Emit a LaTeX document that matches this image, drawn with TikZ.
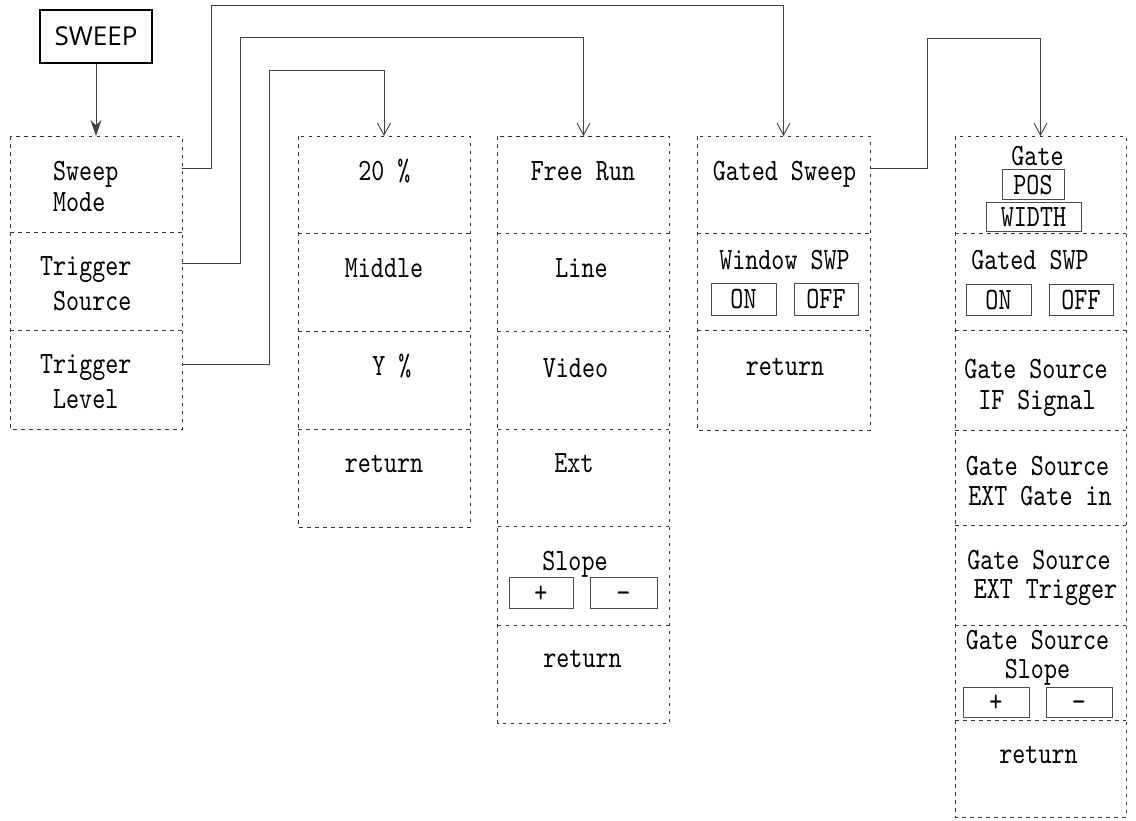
\documentclass[tikz,border=0pt]{standalone}
\usepackage{fontspec}
\usetikzlibrary{arrows.meta,calc}
\newfontfamily\lcd{lmmono10-regular.otf}[FakeStretch=0.8]
\newfontfamily\hdr{Open Sans}
\tikzset{
  cell/.style={draw=none, minimum width=172pt, inner sep=0pt, outer sep=0pt},
  colbox/.style={draw=black!80, line width=0.9pt, dash pattern=on 3.5pt off 4.5pt},
  txt/.style={font=\lcd\fontsize{31}{33}\selectfont, inner sep=0pt, anchor=base},
  txtw/.style={txt, anchor=base west},
  btn/.style={draw=black!70, line width=0.9pt, inner sep=0pt, minimum height=31pt,
              text height=19pt, text depth=0pt, font=\lcd\fontsize{31}{33}\selectfont},
  conn/.style={draw=black!75, line width=0.9pt},
  tip/.style={-{Straight Barb[length=12pt,width=13pt]}},
}
\begin{document}
\begin{tikzpicture}[x=1pt,y=-1pt]
\useasboundingbox (0,0) rectangle (1136,820);

% ---------- header ----------
\node[draw=black, line width=2.2pt, minimum width=112pt, minimum height=53pt, inner sep=0pt,
      font=\hdr\fontsize{26}{26}\selectfont] (sweep) at (96,36.5) {SWEEP};

% ---------- column 1 ----------
\node[cell, minimum height=96pt] (sm) at (96,184) {};
\node[cell, minimum height=98pt] (ts) at (96,281) {};
\node[cell, minimum height=99pt] (tl) at (96,379.5) {};
\draw[colbox] (sm.north west) rectangle (tl.south east);
\draw[colbox] (sm.south west) -- (sm.south east);
\draw[colbox] (ts.south west) -- (ts.south east);
\node[txtw] (t1a) at (53,180) {Sweep};
\node[txtw] (t1b) at (53,211) {Mode};
\node[txtw] (t2a) at (40,275) {Trigger};
\node[txtw] (t2b) at (53,310) {Source};
\node[txtw] (t3a) at (40,373) {Trigger};
\node[txtw] (t3b) at (53,408) {Level};

% ---------- column 2 ----------
\node[cell, minimum height=97pt] (p20) at (384,184.5) {};
\node[cell, minimum height=98pt] (mid) at (384,282) {};
\node[cell, minimum height=98pt] (yp) at (384,380) {};
\node[cell, minimum height=98pt] (rt2) at (384,478) {};
\draw[colbox] (p20.north west) rectangle (rt2.south east);
\foreach \c in {p20,mid,yp} \draw[colbox] (\c.south west) -- (\c.south east);
\node[txt] (u1) at (384.5,180) {20 \%};
\node[txt] (u2) at (384,277) {Middle};
\node[txt] (u3) at (392,375) {Y \%};
\node[txt] (u4) at (384,472) {return};

% ---------- column 3 ----------
\node[cell, minimum height=97pt] (fr) at (583.5,184.5) {};
\node[cell, minimum height=98pt] (ln) at (583.5,282) {};
\node[cell, minimum height=98pt] (vd) at (583.5,380) {};
\node[cell, minimum height=97pt] (ex) at (583.5,477.5) {};
\node[cell, minimum height=99pt] (sl) at (583.5,575.5) {};
\node[cell, minimum height=98pt] (rt3) at (583.5,674) {};
\draw[colbox] (fr.north west) rectangle (rt3.south east);
\foreach \c in {fr,ln,vd,ex,sl} \draw[colbox] (\c.south west) -- (\c.south east);
\node[txt] (v1) at (583,180) {Free Run};
\node[txt] (v2) at (581.5,277) {Line};
\node[txt] (v3) at (575.5,377) {Video};
\node[txt] (v4) at (574,472) {Ext};
\node[txt] (v5) at (575,570) {Slope};
\node[btn, minimum width=64pt] (v5p) at (541,592.5) {+};
\node[btn, minimum width=67pt] (v5m) at (623.5,592.5) {−};
\node[txt] (v6) at (582.5,667) {return};

% ---------- column 4 ----------
\node[cell, minimum width=173pt, minimum height=97pt] (gsw) at (783.5,184.5) {};
\node[cell, minimum width=173pt, minimum height=97pt] (win) at (783.5,281.5) {};
\node[cell, minimum width=173pt, minimum height=100pt] (rt4) at (783.5,380) {};
\draw[colbox] (gsw.north west) rectangle (rt4.south east);
\foreach \c in {gsw,win} \draw[colbox] (\c.south west) -- (\c.south east);
\node[txt] (w1) at (784.5,180) {Gated Sweep};
\node[txt] (w2) at (784.5,269) {Window SWP};
\node[btn, minimum width=65pt, minimum height=32pt] (w2on) at (743.5,299) {ON};
\node[btn, minimum width=64pt, minimum height=32pt] (w2off) at (826,299) {OFF};
\node[txt] (w3) at (785,375) {return};

% ---------- column 5 ----------
\node[cell, minimum width=171pt, minimum height=97pt] (gate) at (1040.5,184.5) {};
\node[cell, minimum width=171pt, minimum height=97pt] (gswp) at (1040.5,281.5) {};
\node[cell, minimum width=171pt, minimum height=100pt] (gsif) at (1040.5,380) {};
\node[cell, minimum width=171pt, minimum height=95pt] (gsext) at (1040.5,477.5) {};
\node[cell, minimum width=171pt, minimum height=100pt] (gstr) at (1040.5,575) {};
\node[cell, minimum width=171pt, minimum height=95pt] (gssl) at (1040.5,672.5) {};
\node[cell, minimum width=171pt, minimum height=97pt] (rt5) at (1040.5,768.5) {};
\draw[colbox] (gate.north west) rectangle (rt5.south east);
\foreach \c in {gate,gswp,gsif,gsext,gstr,gssl} \draw[colbox] (\c.south west) -- (\c.south east);
\node[txt] (x1) at (1037.5,165) {Gate};
\node[btn, minimum width=62pt, minimum height=30pt] (x1pos) at (1033,184.5) {POS};
\node[btn, minimum width=95pt, minimum height=29pt] (x1wid) at (1033.5,216.5) {WIDTH};
\node[txt] (x2) at (1030,269) {Gated SWP};
\node[btn, minimum width=65pt] (x2on) at (998.5,299.5) {ON};
\node[btn, minimum width=64pt] (x2off) at (1081,299.5) {OFF};
\node[txt] (x3a) at (1036,378) {Gate Source};
\node[txt] (x3b) at (1037,409) {IF Signal};
\node[txt] (x4a) at (1037.5,475) {Gate Source};
\node[txt] (x4b) at (1040,505) {EXT Gate in};
\node[txt] (x5a) at (1039,569) {Gate Source};
\node[txt] (x5b) at (1045.5,598) {EXT Trigger};
\node[txt] (x6a) at (1037.5,649) {Gate Source};
\node[txt] (x6b) at (1037.5,678) {Slope};
\node[btn, minimum width=66pt, minimum height=30pt] (x6p) at (996,702) {+};
\node[btn, minimum width=66pt, minimum height=30pt] (x6m) at (1079,702) {−};
\node[txt] (x7) at (1038.5,763) {return};

% ---------- connectors ----------
\draw[conn, -{Stealth[length=16pt,width=11pt]}] (sweep) -- (sm);
\draw[conn, tip] ($(sm.north east)+(0,32)$) -| (211,5) -| (gsw.north);
\draw[conn, tip] ($(ts.north east)+(0,31)$) -| (240,37) -| (fr.north);
\draw[conn, tip] ($(tl.north east)+(0,34)$) -| (269,70) -| (p20.north);
\draw[conn, tip] ($(gsw.north east)+(0,32)$) -| (927,38) -| (gate.north);
\end{tikzpicture}
\end{document}
